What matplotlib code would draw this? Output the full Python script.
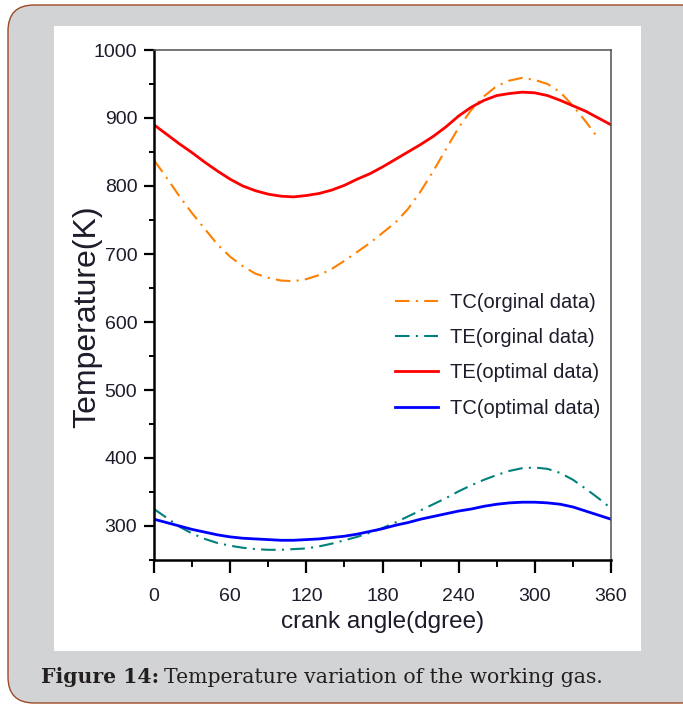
import numpy as np
import matplotlib
matplotlib.use("Agg")
import matplotlib.pyplot as plt
from matplotlib.patches import FancyBboxPatch, Rectangle
from matplotlib.ticker import MultipleLocator

# Crank angle (degrees) and gas temperatures (K)
angle = [0, 10, 20, 30, 40, 50, 60, 70, 80, 90, 100, 110, 120, 130, 140, 150, 160, 170, 180,
         190, 200, 210, 220, 230, 240, 250, 260, 270, 280, 290, 300, 310, 320, 330, 340, 350, 360]

tc_orig = [838, 812, 785, 760, 737, 714, 696, 682, 671, 665, 661, 660, 663, 669, 678, 690, 703, 716, 731,
           746, 766, 792, 822, 854, 886, 912, 932, 947, 955, 959, 956, 950, 938, 918, 895, 870]

te_orig = [325, 312, 299, 289, 281, 275, 271, 268, 266, 265, 265, 266, 267, 270, 274, 279, 284, 290, 297,
           305, 314, 323, 332, 341, 351, 360, 368, 375, 381, 385, 386, 384, 378, 368, 355, 341, 326]

te_opt = [890, 876, 862, 849, 835, 822, 810, 800, 793, 788, 785, 784, 786, 789, 794, 801, 810, 818, 828,
          839, 850, 861, 873, 887, 903, 916, 926, 933, 936, 938, 937, 933, 926, 918, 910, 900, 890]

tc_opt = [310, 305, 300, 295, 291, 287, 284, 282, 281, 280, 279, 279, 280, 281, 283, 285, 288, 292, 296,
          301, 305, 310, 314, 318, 322, 325, 329, 332, 334, 335, 335, 334, 332, 328, 322, 316, 310]

labels = ["TC(orginal data)", "TE(orginal data)", "TE(optimal data)", "TC(optimal data)"]

sans = ["Liberation Sans", "DejaVu Sans"]
ink = "#1c1c2a"

fig = plt.figure(figsize=(6.83, 7.06), dpi=100)
fig.patch.set_facecolor("white")

# grey card with rounded border, white panel for the plot
card = FancyBboxPatch((8, 3), 700, 698, boxstyle="round,pad=0,rounding_size=26",
                      transform=None, facecolor="#d1d3d4", edgecolor="#9c4a2a", linewidth=1.0,
                      zorder=-2)
fig.patches.append(card)
panel = Rectangle((54 / 683, 55 / 706), 587 / 683, 625 / 706, transform=fig.transFigure,
                  facecolor="white", edgecolor="none", zorder=-1)
fig.patches.append(panel)

ax = fig.add_axes([154 / 683, 146 / 706, 457 / 683, 510 / 706])

ax.plot(angle[:len(tc_orig)], tc_orig, color="#ff8000", lw=1.5, dashes=(7, 3, 1, 3), label=labels[0])
ax.plot(angle, te_orig, color="#00807a", lw=1.5, dashes=(7, 3, 1, 3), label=labels[1])
ax.plot(angle, te_opt, color="#ff0000", lw=2.0, label=labels[2])
ax.plot(angle, tc_opt, color="#0000ff", lw=2.0, label=labels[3])

ax.set_xlim(0, 360)
ax.set_ylim(250, 1000)
ax.xaxis.set_major_locator(MultipleLocator(60))
ax.xaxis.set_minor_locator(MultipleLocator(30))
ax.yaxis.set_major_locator(MultipleLocator(100))
ax.yaxis.set_minor_locator(MultipleLocator(50))

for side in ["left", "bottom"]:
    ax.spines[side].set_linewidth(1.8)
    ax.spines[side].set_color("black")
for side in ["top", "right"]:
    ax.spines[side].set_linewidth(1.1)
    ax.spines[side].set_color("#505050")

ax.tick_params(axis="y", which="major", direction="out", length=7, width=1.6, pad=5)
ax.tick_params(axis="y", which="minor", direction="out", length=3.5, width=1.4)
ax.tick_params(axis="x", which="major", direction="out", length=9, width=1.6, pad=11)
ax.tick_params(axis="x", which="minor", direction="out", length=5, width=1.4)
ax.tick_params(top=False, right=False, which="both")

for t in ax.get_xticklabels() + ax.get_yticklabels():
    t.set_family(sans)
    t.set_fontsize(14)
    t.set_color(ink)

ax.set_xlabel("crank angle(dgree)", family=sans, fontsize=17.5, color=ink)
ax.xaxis.set_label_coords(0.5, -0.100)
ax.set_ylabel("Temperature(K)", family=sans, fontsize=23, color=ink)
ax.yaxis.set_label_coords(-0.114, 0.477)

leg = ax.legend(loc="upper left", bbox_to_anchor=(0.527, 0.523), frameon=False,
                prop={"family": sans, "size": 14.5}, handlelength=2.15, handletextpad=0.6,
                labelspacing=0.8, borderpad=0, borderaxespad=0)
for t in leg.get_texts():
    t.set_color(ink)

# caption below the panel: bold lead-in, then regular text
serif = ["DejaVu Serif"]
cap_y = 1 - 683 / 706
lead = fig.text(41 / 683, cap_y, "Figure 14:", family=serif, fontweight="bold",
                fontsize=14.7, color="#231f20", va="baseline")
fig.canvas.draw()
bb = lead.get_window_extent()
fig.text((bb.x1 + 5) / 683, cap_y, "Temperature variation of the working gas.",
         family=serif, fontsize=14.7, color="#231f20", va="baseline")

fig.savefig("out.png", dpi=100)
